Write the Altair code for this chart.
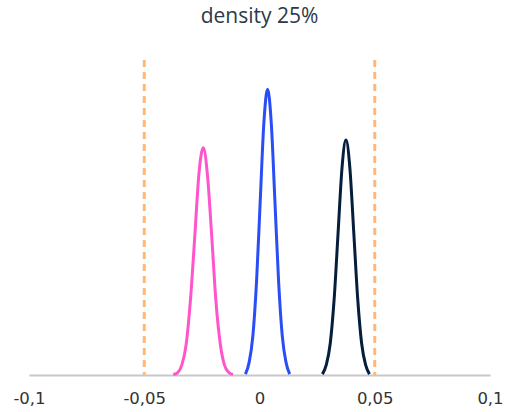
import altair as alt
import pandas as pd

# Curve samples (x value, density height)
pink_x = [-0.0374, -0.0355, -0.0337, -0.0318, -0.0300, -0.0281, -0.0263, -0.0244,
          -0.0226, -0.0207, -0.0189, -0.0170, -0.0152, -0.0133, -0.0115]
pink_y = [0.2, 1.1, 4.4, 13.7, 32.8, 61.3, 89.1, 101, 89.1, 61.3, 32.8, 13.7, 4.4, 1.1, 0.2]

blue_x = [-0.0061, -0.0045, -0.0029, -0.0013, 0.0003, 0.0019, 0.0035, 0.0051,
          0.0067, 0.0083, 0.0099, 0.0115, 0.0131]
blue_y = [0.4, 5.6, 17.2, 41.2, 77.0, 112.1, 127, 112.1, 77.0, 41.2, 17.2, 5.6, 0.4]

navy_x = [0.0273, 0.0290, 0.0307, 0.0324, 0.0341, 0.0358, 0.0375, 0.0392,
          0.0409, 0.0426, 0.0443, 0.0460, 0.0477]
navy_y = [0.4, 4.6, 14.1, 33.9, 63.3, 92.1, 104.4, 92.1, 63.3, 33.9, 14.1, 4.6, 0.4]

series_names = ["pink", "blue", "navy"]
series_colors = ["#FF55CC", "#2A4DF5", "#041E3C"]

limits = [-0.05, 0.05]
tick_values = [-0.1, -0.05, 0, 0.05, 0.1]

rows = []
for name, xs, ys in [("pink", pink_x, pink_y), ("blue", blue_x, blue_y), ("navy", navy_x, navy_y)]:
    for i, (a, b) in enumerate(zip(xs, ys)):
        rows.append({"series": name, "x": a, "y": b, "order": i})
df = pd.DataFrame(rows)
lim_df = pd.DataFrame({"x": limits})

xscale = alt.Scale(domain=[-0.1, 0.1], nice=False, zero=False)
yscale = alt.Scale(domain=[0, 140], nice=False)

xaxis = alt.Axis(
    values=tick_values,
    labelExpr="replace(toString(datum.value), '.', ',')",
    title=None, grid=False, ticks=False,
    domainColor="#C8C8C8", domainWidth=2,
    labelFont="DejaVu Sans", labelFontSize=16.5, labelColor="#333333",
    labelPadding=15, labelFlush=False,
)

rules = alt.Chart(lim_df).mark_rule(
    color="#FFB877", strokeWidth=3, strokeDash=[7, 5]
).encode(x=alt.X("x:Q", scale=xscale, axis=xaxis))

lines = alt.Chart(df).mark_line(strokeWidth=3, interpolate="monotone").encode(
    x=alt.X("x:Q", scale=xscale, axis=xaxis),
    y=alt.Y("y:Q", scale=yscale, axis=None),
    color=alt.Color("series:N", scale=alt.Scale(domain=series_names, range=series_colors), legend=None),
    order="order:Q",
)

chart = alt.layer(rules, lines).properties(
    width=461, height=315,
    title=alt.TitleParams("density 25%", font="Open Sans", fontSize=21, fontWeight="normal",
                          color="#2B3A4A", anchor="middle", offset=32),
    autosize=alt.AutoSizeParams(type="none"),
    padding={"left": 29, "top": 60, "right": 17, "bottom": 37},
).configure_view(stroke=None)

chart.save("out.html", embed_options={"renderer": "svg", "actions": False})
